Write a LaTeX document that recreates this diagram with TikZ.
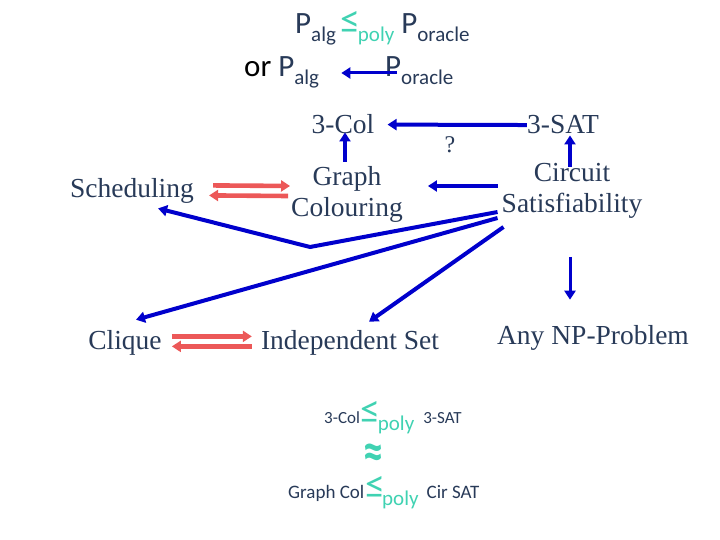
\documentclass[tikz,border=0pt]{standalone}
\usepackage{fontspec}
\setmainfont{Liberation Serif}
\newfontfamily\calib{Carlito}
\usetikzlibrary{arrows.meta,calc}
\definecolor{txt}{RGB}{40,58,88}
\definecolor{tealc}{RGB}{64,210,178}
\definecolor{barc}{RGB}{0,0,204}
\definecolor{redc}{RGB}{236,88,88}
\newcommand\Sb[2][8pt]{\raisebox{-#1}{\fontsize{21}{21}\selectfont #2}}
\newcommand\LeqPoly[1][8pt]{\textcolor{tealc}{\hspace{-2pt}\smash{\fontsize{40}{40}\selectfont ≤}\hspace{-3pt}\Sb[#1]{poly}}}
\tikzset{
  serif/.style={inner sep=0pt, text=txt, font=\fontsize{27.5}{31}\selectfont, align=center},
  sans/.style={inner sep=0pt, text=txt, font=\calib\fontsize{31}{36}\selectfont, anchor=base west},
  barrow/.style={draw=barc, line width=4pt, -{Triangle[length=9pt,width=11pt]}},
  rarrow/.style={draw=redc, line width=4.6pt, -{Triangle[length=9pt,width=11pt]}}
}
\begin{document}
\begin{tikzpicture}[x=1pt,y=-1pt]
\useasboundingbox (0,0) rectangle (720,540);
% top formula
\node[sans] (t1) at (295,34) {P\Sb{alg} \LeqPoly{} P\Sb{oracle}};
\node[sans] (t2a) at (244,77) {\textcolor{black}{or} P\Sb{alg}};
\node[sans] (t2b) at (385,77) {P\Sb{oracle}};
\draw[barrow, line width=3pt] ($(t2b.base west)+(12,-4)$) -- ($(t2a.base east)+(22,-4)$);
% serif nodes
\node[serif, anchor=base] (col) at (343,134) {3-Col};
\node[serif, anchor=base] (sat) at (563,134) {3-SAT};
\node[serif, font=\fontsize{24}{28}\selectfont] (q) at (450,145) {?};
\node[serif] (gc) at (347,194) {Graph\\Colouring};
\node[serif] (cs) at (572,191) {Circuit\\Satisfiability};
\node[serif, anchor=base] (sch) at (132,197) {Scheduling};
\node[serif, anchor=base] (clq) at (125,349) {Clique};
\node[serif, anchor=base] (ind) at (350,349) {Independent Set};
\node[serif, anchor=base] (np) at (593,344) {Any NP-Problem};
% blue arrows
\draw[barrow] (sat.west) -- ($(col.east)+(13,0)$);
\draw[barrow] ($(gc.north)+(-2,-4)$) -- ($(col.south)+(2,-2)$);
\draw[barrow] ($(cs.north)+(-2,4)$) -- ($(sat.south)+(7,1)$);
\draw[barrow] ($(cs.west)+(-4,-5)$) -- ($(gc.east)+(25,-8)$);
\coordinate (bend) at (310,247);
\draw[barrow] ($(cs.west)+(-4,21)$) -- (bend) -- ($(sch.east)+(-36,18)$);
\draw[barrow] ($(cs.west)+(-4,27)$) -- ($(clq.north)+(11,-10)$);
\draw[barrow] ($(cs.west)+(2,36)$) -- ($(ind.north)+(19,-8)$);
\draw[barrow, line width=3pt] ($(cs.south)+(-2,38)$) -- ($(np.north)+(-23,-25)$);
% red arrows
\draw[rarrow] ($(sch.east)+(19,-5)$) -- ($(gc.west)+(-1,-8)$);
\draw[rarrow] ($(gc.west)+(-3,2)$) -- ($(sch.east)+(15,5)$);
\draw[rarrow] ($(clq.east)+(10,-6)$) -- ($(ind.west)+(-9,-6)$);
\draw[rarrow] ($(ind.west)+(-9,4)$) -- ($(clq.east)+(10,4)$);
% bottom relations
\node[sans] (b1) at (324,423) {{\fontsize{17}{17}\selectfont 3-Col}\hspace{3pt}\LeqPoly[7pt]\hspace{9pt}{\fontsize{17}{17}\selectfont 3-SAT}};
\node[inner sep=0pt, text=tealc, font=\calib\bfseries\fontsize{40}{40}\selectfont] (approx) at (373,457) {\scalebox{1}[1.35]{≈}};
\node[sans] (b2) at (288,498) {{\fontsize{19}{19}\selectfont Graph Col}\hspace{3pt}\LeqPoly[7pt]\hspace{8pt}{\fontsize{19}{19}\selectfont Cir SAT}};
\end{tikzpicture}
\end{document}
